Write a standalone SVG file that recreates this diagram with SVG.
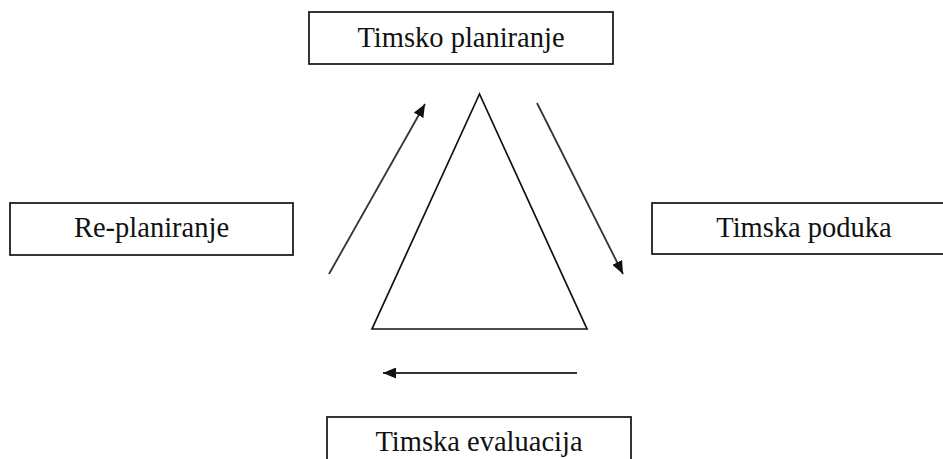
<svg xmlns="http://www.w3.org/2000/svg" width="943" height="459" viewBox="0 0 943 459">
<style>
.box{fill:#fff;stroke:#111;stroke-width:1.7}
.lbl{font-family:"Liberation Serif","Times New Roman",serif;font-size:28.5px;fill:#111;text-anchor:middle}
.arr{fill:none;stroke:#333;stroke-width:1.8}
</style>
<defs>
<marker id="ah" viewBox="0 0 13 11" refX="13" refY="5.5" markerWidth="13" markerHeight="11" markerUnits="userSpaceOnUse" orient="auto">
<path d="M0,0 L13,5.5 L0,11 Z" fill="#111"/>
</marker>
</defs>
<rect width="943" height="459" fill="#fff"/>
<g id="timsko-planiranje">
<rect class="box" x="309" y="12" width="304" height="52"/>
<text class="lbl" x="461" y="47">Timsko planiranje</text>
</g>
<g id="re-planiranje">
<rect class="box" x="10" y="203" width="283" height="52"/>
<text class="lbl" x="151.5" y="237">Re-planiranje</text>
</g>
<g id="timska-poduka">
<rect class="box" x="652" y="203" width="304" height="51"/>
<text class="lbl" x="804" y="237">Timska poduka</text>
</g>
<g id="timska-evaluacija">
<rect class="box" x="327" y="417" width="304" height="52"/>
<text class="lbl" x="479" y="451">Timska evaluacija</text>
</g>
<g id="triangle">
<polygon points="479.5,94 372,329 587,329" fill="none" stroke="#111" stroke-width="1.7"/>
</g>
<g id="connectors">
<line class="arr" x1="329" y1="274" x2="425" y2="104" marker-end="url(#ah)"/>
<line class="arr" x1="537" y1="103" x2="623" y2="274" marker-end="url(#ah)"/>
<line class="arr" x1="577" y1="373" x2="383" y2="373" marker-end="url(#ah)"/>
</g>
</svg>
